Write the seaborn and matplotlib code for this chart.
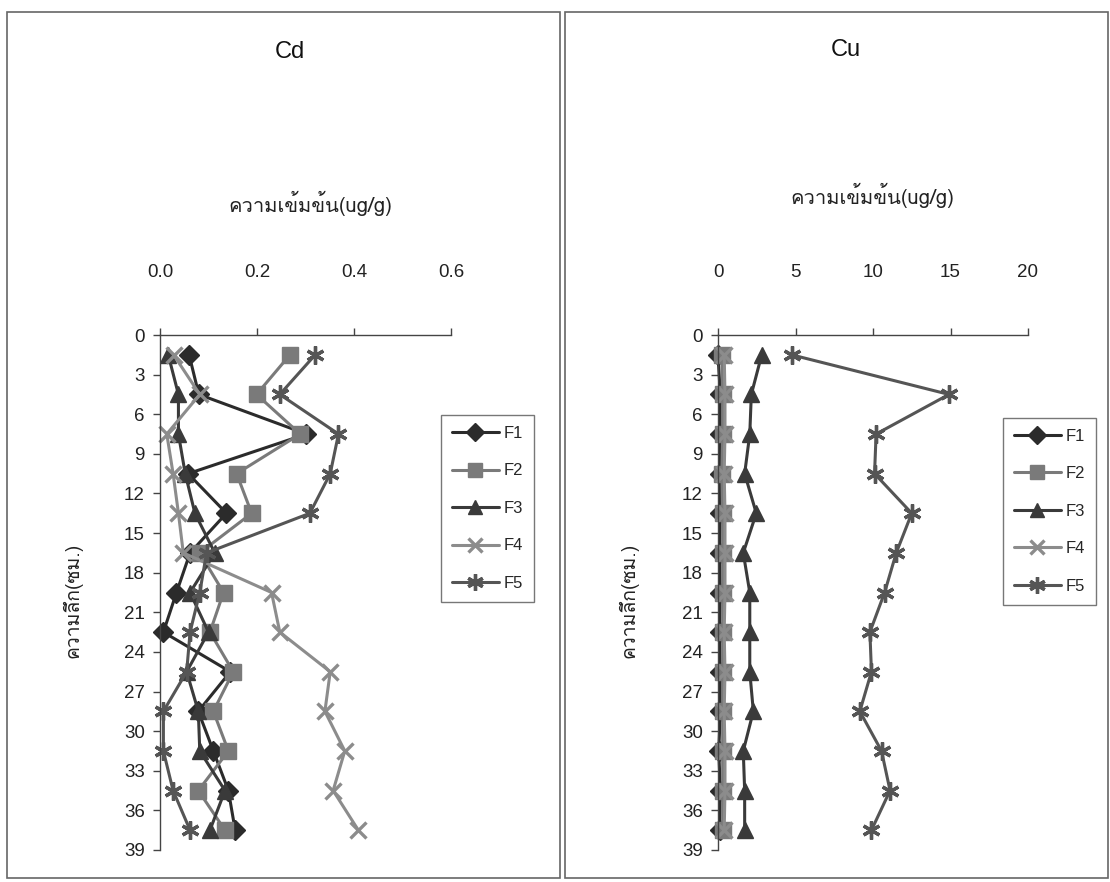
import numpy as np
import pandas as pd
import matplotlib
matplotlib.use("Agg")
import matplotlib.pyplot as plt
from matplotlib import font_manager
from matplotlib.patches import Rectangle
from matplotlib.lines import Line2D
import seaborn as sns

# ---------------- data ----------------
depth = [1.5, 4.5, 7.5, 10.5, 13.5, 16.5, 19.5, 22.5, 25.5, 28.5, 31.5, 34.5, 37.5]
series = ["F1", "F2", "F3", "F4", "F5"]

cd_F1 = [0.060, 0.080, 0.302, 0.058, 0.137, 0.062, 0.034, 0.007, 0.145, 0.079, 0.110, 0.141, 0.155]
cd_F2 = [0.268, 0.199, 0.289, 0.158, 0.189, 0.082, 0.131, 0.103, 0.151, 0.110, 0.141, 0.079, 0.134]
cd_F3 = [0.017, 0.038, 0.038, 0.052, 0.072, 0.113, 0.062, 0.100, 0.055, 0.079, 0.082, 0.134, 0.103]
cd_F4 = [0.028, 0.082, 0.014, 0.027, 0.038, 0.048, 0.230, 0.247, 0.351, 0.340, 0.381, 0.357, 0.409]
cd_F5 = [0.320, 0.247, 0.368, 0.351, 0.309, 0.096, 0.082, 0.062, 0.055, 0.007, 0.007, 0.027, 0.062]

cu_F1 = [0.00, 0.15, 0.15, 0.10, 0.15, 0.10, 0.15, 0.10, 0.15, 0.15, 0.05, 0.15, 0.10]
cu_F2 = [0.25, 0.30, 0.30, 0.25, 0.30, 0.30, 0.30, 0.30, 0.30, 0.30, 0.30, 0.30, 0.30]
cu_F3 = [2.82, 2.15, 2.05, 1.72, 2.47, 1.63, 2.05, 2.05, 2.05, 2.28, 1.63, 1.72, 1.72]
cu_F4 = [0.40, 0.45, 0.45, 0.40, 0.45, 0.45, 0.45, 0.40, 0.45, 0.40, 0.45, 0.45, 0.40]
cu_F5 = [4.75, 14.90, 10.20, 10.10, 12.50, 11.50, 10.75, 9.80, 9.90, 9.15, 10.55, 11.10, 9.90]

cd_ticks = [0.0, 0.2, 0.4, 0.6]
cu_ticks = [0, 5, 10, 15, 20]
y_ticks = list(range(0, 40, 3))

titles = ["Cd", "Cu"]
xlabel = "ความเข้มข้น(ug/g)"
ylabel = "ความลึก(ซม.)"

# ---------------- fonts ----------------
def find_thai_font():
    try:
        from fontTools.ttLib import TTFont
    except Exception:
        return None
    for f in sorted(font_manager.findSystemFonts()):
        try:
            tt = TTFont(f, fontNumber=0, lazy=True)
            cmap = tt.getBestCmap()
            if cmap and 0x0E04 in cmap and 0x0E21 in cmap:
                return font_manager.FontProperties(fname=f).get_name()
        except Exception:
            continue
    return None

sns.set_theme(style="white")
thai = find_thai_font()
base = "Liberation Sans"
fams = [base] + ([thai] if thai else []) + ["DejaVu Sans"]
plt.rcParams["font.family"] = fams
thai_fams = ([thai] if thai else []) + [base, "DejaVu Sans"]

# ---------------- styling ----------------
palette = {"F1": "#2b2b2b", "F2": "#7a7a7a", "F3": "#3a3a3a", "F4": "#8c8c8c", "F5": "#555555"}
markers = {"F1": "D", "F2": "s", "F3": "^", "F4": "x", "F5": (6, 2, 0)}
msizes = {"F1": 10, "F2": 11, "F3": 11, "F4": 11, "F5": 13}
mews = {"F1": 1, "F2": 1, "F3": 1, "F4": 2.4, "F5": 2.4}

def long_df(vals):
    rows = []
    for s, v in zip(series, vals):
        for d, x in zip(depth, v):
            rows.append({"series": s, "depth": d, "value": x})
    return pd.DataFrame(rows)

df_cd = long_df([cd_F1, cd_F2, cd_F3, cd_F4, cd_F5])
df_cu = long_df([cu_F1, cu_F2, cu_F3, cu_F4, cu_F5])

W, H = 1110, 882
fig = plt.figure(figsize=(W / 100, H / 100), dpi=100)
fig.patch.set_facecolor("white")

# panel borders
for (x0, x1) in [(7, 560), (565, 1108)]:
    fig.patches.append(Rectangle((x0 / W, 1 - 878 / H), (x1 - x0) / W, (878 - 12) / H,
                                 transform=fig.transFigure, fill=False,
                                 edgecolor="#666666", linewidth=1.2))

def px_axes(l, r, t, b):
    return fig.add_axes([l / W, 1 - b / H, (r - l) / W, (b - t) / H])

specs = [
    dict(df=df_cd, ax=(160, 451, 335, 850), xlim=(0, 0.6), ticks=cd_ticks, fmt="{:.1f}",
         title_xy=(290, 52), xl_xy=(310, 203), yl_xy=(72, 600), leg=(441, 415)),
    dict(df=df_cu, ax=(718, 1028, 335, 850), xlim=(0, 20), ticks=cu_ticks, fmt="{:d}",
         title_xy=(846, 50), xl_xy=(872, 195), yl_xy=(628, 600), leg=(1003, 418)),
]

for sp, title in zip(specs, titles):
    ax = px_axes(*sp["ax"])
    for s in series:
        sub = sp["df"][sp["df"]["series"] == s]
        sns.lineplot(data=sub, x="value", y="depth", sort=False, orient="y", ax=ax,
                     color=palette[s], marker=markers[s], markersize=msizes[s],
                     markeredgecolor=palette[s], markeredgewidth=mews[s],
                     linewidth=2.2, label=s, legend=False, estimator=None, clip_on=False)
    ax.set_xlim(*sp["xlim"])
    ax.set_ylim(39, 0)
    ax.set_xticks(sp["ticks"])
    ax.set_xticklabels([sp["fmt"].format(t) for t in sp["ticks"]])
    ax.set_yticks(y_ticks)
    ax.xaxis.tick_top()
    ax.set_xlabel("")
    ax.set_ylabel("")
    for side in ["right", "bottom"]:
        ax.spines[side].set_visible(False)
    for side in ["top", "left"]:
        ax.spines[side].set_color("#444444")
        ax.spines[side].set_linewidth(1.0)
    ax.tick_params(axis="x", which="both", top=True, bottom=False, direction="out",
                   length=5, width=1, color="#444444", pad=34, labelsize=13.5, labelcolor="#222222")
    ax.tick_params(axis="y", which="both", left=True, direction="out",
                   length=5, width=1, color="#444444", pad=6, labelsize=13.5, labelcolor="#222222")
    ax.set_facecolor("none")
    ax.grid(False)

    fig.text(sp["title_xy"][0] / W, 1 - sp["title_xy"][1] / H, title, ha="center", va="center",
             fontsize=17, color="#111111")
    fig.text(sp["xl_xy"][0] / W, 1 - sp["xl_xy"][1] / H, xlabel, ha="center", va="center",
             fontsize=14.5, color="#222222", family=thai_fams)
    fig.text(sp["yl_xy"][0] / W, 1 - sp["yl_xy"][1] / H, ylabel, ha="center", va="center",
             rotation=90, fontsize=14, color="#222222", family=thai_fams)

    # legend
    handles = [Line2D([], [], color=palette[s], marker=markers[s], markersize=msizes[s] - 1,
                      markeredgecolor=palette[s], markeredgewidth=mews[s], linewidth=2.2)
               for s in series]
    lx, ly = sp["leg"]
    leg = fig.legend(handles, series, loc="upper left", bbox_to_anchor=(lx / W, 1 - ly / H),
                     frameon=True, fontsize=12, handlelength=2.8, labelspacing=1.35,
                     borderpad=0.65, borderaxespad=0, handletextpad=0.3, fancybox=False)
    leg.get_frame().set_edgecolor("#555555")
    leg.get_frame().set_linewidth(1.0)

fig.savefig("out.png", dpi=100, facecolor="white")
